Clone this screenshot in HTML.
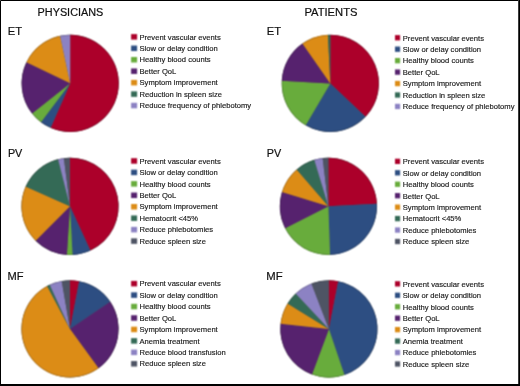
<!DOCTYPE html>
<html><head><meta charset="utf-8"><style>
html,body{margin:0;padding:0;background:#fff;}
body{width:520px;height:386px;overflow:hidden;}
svg{display:block;}
text{font-family:"Liberation Sans",sans-serif;}

</style></head><body>
<svg width="520" height="386" viewBox="0 0 520 386">
<defs><filter id="soft" color-interpolation-filters="sRGB" filterUnits="userSpaceOnUse" x="0" y="0" width="520" height="386"><feConvolveMatrix order="3" kernelMatrix="1 2 1 2 4 2 1 2 1" divisor="16" edgeMode="duplicate"/></filter></defs>
<rect x="0" y="0" width="520" height="386" fill="#fff"/>
<g filter="url(#soft)">
<rect x="0" y="0" width="520" height="386" fill="#fff"/>
<circle cx="70.20" cy="83.35" r="48.5" fill="#555"/>
<path d="M70.20,83.35L70.20,34.75A48.6,48.6 0 1 1 50.67,127.85Z" fill="#ac002a"/>
<path d="M70.20,83.35L50.67,127.85A48.6,48.6 0 0 1 40.95,122.16Z" fill="#2d4e82"/>
<path d="M70.20,83.35L40.95,122.16A48.6,48.6 0 0 1 32.06,113.47Z" fill="#68ac3c"/>
<path d="M70.20,83.35L32.06,113.47A48.6,48.6 0 0 1 26.44,62.20Z" fill="#56226e"/>
<path d="M70.20,83.35L26.44,62.20A48.6,48.6 0 0 1 60.10,35.81Z" fill="#dc8c16"/>
<path d="M70.20,83.35L60.10,35.81A48.6,48.6 0 0 1 70.20,34.75Z" fill="#8c82c3"/>
<circle cx="70.20" cy="83.35" r="48.300000000000004" fill="none" stroke="rgba(0,0,0,0.22)" stroke-width="0.7"/>
<circle cx="330.30" cy="83.40" r="48.5" fill="#555"/>
<path d="M330.30,83.40L330.30,34.80A48.6,48.6 0 0 1 365.55,116.85Z" fill="#ac002a"/>
<path d="M330.30,83.40L365.55,116.85A48.6,48.6 0 0 1 305.71,125.32Z" fill="#2d4e82"/>
<path d="M330.30,83.40L305.71,125.32A48.6,48.6 0 0 1 281.77,80.77Z" fill="#68ac3c"/>
<path d="M330.30,83.40L281.77,80.77A48.6,48.6 0 0 1 302.42,43.59Z" fill="#56226e"/>
<path d="M330.30,83.40L302.42,43.59A48.6,48.6 0 0 1 327.93,34.86Z" fill="#dc8c16"/>
<path d="M330.30,83.40L327.93,34.86A48.6,48.6 0 0 1 330.30,34.80Z" fill="#346a56"/>
<circle cx="330.30" cy="83.40" r="48.300000000000004" fill="none" stroke="rgba(0,0,0,0.22)" stroke-width="0.7"/>
<circle cx="70.00" cy="206.35" r="48.5" fill="#555"/>
<path d="M70.00,206.35L70.00,157.75A48.6,48.6 0 0 1 90.39,250.47Z" fill="#ac002a"/>
<path d="M70.00,206.35L90.39,250.47A48.6,48.6 0 0 1 72.54,254.88Z" fill="#2d4e82"/>
<path d="M70.00,206.35L72.54,254.88A48.6,48.6 0 0 1 66.86,254.85Z" fill="#68ac3c"/>
<path d="M70.00,206.35L66.86,254.85A48.6,48.6 0 0 1 35.63,240.72Z" fill="#56226e"/>
<path d="M70.00,206.35L35.63,240.72A48.6,48.6 0 0 1 25.64,186.51Z" fill="#dc8c16"/>
<path d="M70.00,206.35L25.64,186.51A48.6,48.6 0 0 1 58.08,159.23Z" fill="#346a56"/>
<path d="M70.00,206.35L58.08,159.23A48.6,48.6 0 0 1 63.91,158.13Z" fill="#8c82c3"/>
<path d="M70.00,206.35L63.91,158.13A48.6,48.6 0 0 1 70.00,157.75Z" fill="#4e5464"/>
<circle cx="70.00" cy="206.35" r="48.300000000000004" fill="none" stroke="rgba(0,0,0,0.22)" stroke-width="0.7"/>
<circle cx="328.40" cy="206.30" r="48.5" fill="#555"/>
<path d="M328.40,206.30L328.40,157.70A48.6,48.6 0 0 1 376.94,203.84Z" fill="#ac002a"/>
<path d="M328.40,206.30L376.94,203.84A48.6,48.6 0 0 1 330.01,254.87Z" fill="#2d4e82"/>
<path d="M328.40,206.30L330.01,254.87A48.6,48.6 0 0 1 285.10,228.36Z" fill="#68ac3c"/>
<path d="M328.40,206.30L285.10,228.36A48.6,48.6 0 0 1 281.92,192.09Z" fill="#56226e"/>
<path d="M328.40,206.30L281.92,192.09A48.6,48.6 0 0 1 296.71,169.45Z" fill="#dc8c16"/>
<path d="M328.40,206.30L296.71,169.45A48.6,48.6 0 0 1 314.27,159.80Z" fill="#346a56"/>
<path d="M328.40,206.30L314.27,159.80A48.6,48.6 0 0 1 322.65,158.04Z" fill="#8c82c3"/>
<path d="M328.40,206.30L322.65,158.04A48.6,48.6 0 0 1 328.40,157.70Z" fill="#4e5464"/>
<circle cx="328.40" cy="206.30" r="48.300000000000004" fill="none" stroke="rgba(0,0,0,0.22)" stroke-width="0.7"/>
<circle cx="70.00" cy="328.90" r="48.5" fill="#555"/>
<path d="M70.00,328.90L70.00,280.30A48.6,48.6 0 0 1 79.19,281.18Z" fill="#ac002a"/>
<path d="M70.00,328.90L79.19,281.18A48.6,48.6 0 0 1 110.29,301.72Z" fill="#2d4e82"/>
<path d="M70.00,328.90L110.29,301.72A48.6,48.6 0 0 1 98.57,368.22Z" fill="#56226e"/>
<path d="M70.00,328.90L98.57,368.22A48.6,48.6 0 1 1 47.18,285.99Z" fill="#dc8c16"/>
<path d="M70.00,328.90L47.18,285.99A48.6,48.6 0 0 1 49.69,284.75Z" fill="#346a56"/>
<path d="M70.00,328.90L49.69,284.75A48.6,48.6 0 0 1 61.73,281.01Z" fill="#8c82c3"/>
<path d="M70.00,328.90L61.73,281.01A48.6,48.6 0 0 1 70.00,280.30Z" fill="#4e5464"/>
<circle cx="70.00" cy="328.90" r="48.300000000000004" fill="none" stroke="rgba(0,0,0,0.22)" stroke-width="0.7"/>
<circle cx="328.90" cy="328.95" r="48.5" fill="#555"/>
<path d="M328.90,328.95L328.90,280.35A48.6,48.6 0 0 1 338.26,281.26Z" fill="#ac002a"/>
<path d="M328.90,328.95L338.26,281.26A48.6,48.6 0 0 1 344.48,374.98Z" fill="#2d4e82"/>
<path d="M328.90,328.95L344.48,374.98A48.6,48.6 0 0 1 311.96,374.50Z" fill="#68ac3c"/>
<path d="M328.90,328.95L311.96,374.50A48.6,48.6 0 0 1 280.57,323.87Z" fill="#56226e"/>
<path d="M328.90,328.95L280.57,323.87A48.6,48.6 0 0 1 287.55,303.41Z" fill="#dc8c16"/>
<path d="M328.90,328.95L287.55,303.41A48.6,48.6 0 0 1 295.69,293.46Z" fill="#346a56"/>
<path d="M328.90,328.95L295.69,293.46A48.6,48.6 0 0 1 311.48,283.58Z" fill="#8c82c3"/>
<path d="M328.90,328.95L311.48,283.58A48.6,48.6 0 0 1 328.90,280.35Z" fill="#4e5464"/>
<circle cx="328.90" cy="328.95" r="48.300000000000004" fill="none" stroke="rgba(0,0,0,0.22)" stroke-width="0.7"/>
<rect x="131.1" y="34.10" width="6.0" height="5.5" fill="#ac002a"/>
<rect x="131.1" y="45.55" width="6.0" height="5.5" fill="#2d4e82"/>
<rect x="131.1" y="57.00" width="6.0" height="5.5" fill="#68ac3c"/>
<rect x="131.1" y="68.45" width="6.0" height="5.5" fill="#56226e"/>
<rect x="131.1" y="79.90" width="6.0" height="5.5" fill="#dc8c16"/>
<rect x="131.1" y="91.35" width="6.0" height="5.5" fill="#346a56"/>
<rect x="131.1" y="102.80" width="6.0" height="5.5" fill="#8c82c3"/>
<rect x="395.0" y="35.10" width="5.1" height="5.3" fill="#ac002a"/>
<rect x="395.0" y="46.55" width="5.1" height="5.3" fill="#2d4e82"/>
<rect x="395.0" y="58.00" width="5.1" height="5.3" fill="#68ac3c"/>
<rect x="395.0" y="69.45" width="5.1" height="5.3" fill="#56226e"/>
<rect x="395.0" y="80.90" width="5.1" height="5.3" fill="#dc8c16"/>
<rect x="395.0" y="92.35" width="5.1" height="5.3" fill="#346a56"/>
<rect x="395.0" y="103.80" width="5.1" height="5.3" fill="#8c82c3"/>
<rect x="131.1" y="158.20" width="6.0" height="5.5" fill="#ac002a"/>
<rect x="131.1" y="169.65" width="6.0" height="5.5" fill="#2d4e82"/>
<rect x="131.1" y="181.10" width="6.0" height="5.5" fill="#68ac3c"/>
<rect x="131.1" y="192.55" width="6.0" height="5.5" fill="#56226e"/>
<rect x="131.1" y="204.00" width="6.0" height="5.5" fill="#dc8c16"/>
<rect x="131.1" y="215.45" width="6.0" height="5.5" fill="#346a56"/>
<rect x="131.1" y="226.90" width="6.0" height="5.5" fill="#8c82c3"/>
<rect x="131.1" y="238.35" width="6.0" height="5.5" fill="#4e5464"/>
<rect x="395.0" y="158.70" width="5.1" height="5.3" fill="#ac002a"/>
<rect x="395.0" y="170.15" width="5.1" height="5.3" fill="#2d4e82"/>
<rect x="395.0" y="181.60" width="5.1" height="5.3" fill="#68ac3c"/>
<rect x="395.0" y="193.05" width="5.1" height="5.3" fill="#56226e"/>
<rect x="395.0" y="204.50" width="5.1" height="5.3" fill="#dc8c16"/>
<rect x="395.0" y="215.95" width="5.1" height="5.3" fill="#346a56"/>
<rect x="395.0" y="227.40" width="5.1" height="5.3" fill="#8c82c3"/>
<rect x="395.0" y="238.85" width="5.1" height="5.3" fill="#4e5464"/>
<rect x="131.1" y="280.90" width="6.0" height="5.5" fill="#ac002a"/>
<rect x="131.1" y="292.35" width="6.0" height="5.5" fill="#2d4e82"/>
<rect x="131.1" y="303.80" width="6.0" height="5.5" fill="#68ac3c"/>
<rect x="131.1" y="315.25" width="6.0" height="5.5" fill="#56226e"/>
<rect x="131.1" y="326.70" width="6.0" height="5.5" fill="#dc8c16"/>
<rect x="131.1" y="338.15" width="6.0" height="5.5" fill="#346a56"/>
<rect x="131.1" y="349.60" width="6.0" height="5.5" fill="#8c82c3"/>
<rect x="131.1" y="361.05" width="6.0" height="5.5" fill="#4e5464"/>
<rect x="395.0" y="281.20" width="5.1" height="5.3" fill="#ac002a"/>
<rect x="395.0" y="292.65" width="5.1" height="5.3" fill="#2d4e82"/>
<rect x="395.0" y="304.10" width="5.1" height="5.3" fill="#68ac3c"/>
<rect x="395.0" y="315.55" width="5.1" height="5.3" fill="#56226e"/>
<rect x="395.0" y="327.00" width="5.1" height="5.3" fill="#dc8c16"/>
<rect x="395.0" y="338.45" width="5.1" height="5.3" fill="#346a56"/>
<rect x="395.0" y="349.90" width="5.1" height="5.3" fill="#8c82c3"/>
<rect x="395.0" y="361.35" width="5.1" height="5.3" fill="#4e5464"/>
</g>
<g style="will-change:transform" fill="#111" stroke="#111" stroke-width="0.2">
<text x="37.6" y="16.4" font-size="10.85">PHYSICIANS</text>
<text x="304.4" y="16.2" font-size="11.2">PATIENTS</text>
<text x="7.7" y="34.5" font-size="11.2">ET</text>
<text x="266.8" y="34.5" font-size="11.2">ET</text>
<text x="7.9" y="157.1" font-size="10.8">PV</text>
<text x="266.7" y="157.1" font-size="10.8">PV</text>
<text x="7.4" y="279.6" font-size="11.1">MF</text>
<text x="266.3" y="279.6" font-size="11.3">MF</text>
</g>
<g style="will-change:transform" font-size="7.62" fill="#1a1a1a" stroke="#1a1a1a" stroke-width="0.15">
<text x="139.50" y="39.50">Prevent vascular events</text>
<text x="139.50" y="50.95">Slow or delay condition</text>
<text x="139.50" y="62.40">Healthy blood counts</text>
<text x="139.50" y="73.85">Better QoL</text>
<text x="139.50" y="85.30">Symptom improvement</text>
<text x="139.50" y="96.75">Reduction in spleen size</text>
<text x="139.50" y="108.20">Reduce frequency of phlebotomy</text>
<text x="402.80" y="40.55">Prevent vascular events</text>
<text x="402.80" y="52.00">Slow or delay condition</text>
<text x="402.80" y="63.45">Healthy blood counts</text>
<text x="402.80" y="74.90">Better QoL</text>
<text x="402.80" y="86.35">Symptom improvement</text>
<text x="402.80" y="97.80">Reduction in spleen size</text>
<text x="402.80" y="109.25">Reduce frequency of phlebotomy</text>
<text x="139.50" y="163.60">Prevent vascular events</text>
<text x="139.50" y="175.05">Slow or delay condition</text>
<text x="139.50" y="186.50">Healthy blood counts</text>
<text x="139.50" y="197.95">Better QoL</text>
<text x="139.50" y="209.40">Symptom improvement</text>
<text x="139.50" y="220.85">Hematocrit &lt;45%</text>
<text x="139.50" y="232.30">Reduce phlebotomies</text>
<text x="139.50" y="243.75">Reduce spleen size</text>
<text x="402.80" y="164.15">Prevent vascular events</text>
<text x="402.80" y="175.60">Slow or delay condition</text>
<text x="402.80" y="187.05">Healthy blood counts</text>
<text x="402.80" y="198.50">Better QoL</text>
<text x="402.80" y="209.95">Symptom improvement</text>
<text x="402.80" y="221.40">Hematocrit &lt;45%</text>
<text x="402.80" y="232.85">Reduce phlebotomies</text>
<text x="402.80" y="244.30">Reduce spleen size</text>
<text x="139.50" y="286.30">Prevent vascular events</text>
<text x="139.50" y="297.75">Slow or delay condition</text>
<text x="139.50" y="309.20">Healthy blood counts</text>
<text x="139.50" y="320.65">Better QoL</text>
<text x="139.50" y="332.10">Symptom improvement</text>
<text x="139.50" y="343.55">Anemia treatment</text>
<text x="139.50" y="355.00">Reduce blood transfusion</text>
<text x="139.50" y="366.45">Reduce spleen size</text>
<text x="402.80" y="286.65">Prevent vascular events</text>
<text x="402.80" y="298.10">Slow or delay condition</text>
<text x="402.80" y="309.55">Healthy blood counts</text>
<text x="402.80" y="321.00">Better QoL</text>
<text x="402.80" y="332.45">Symptom improvement</text>
<text x="402.80" y="343.90">Anemia treatment</text>
<text x="402.80" y="355.35">Reduce phlebotomies</text>
<text x="402.80" y="366.80">Reduce spleen size</text>
</g>
<path d="M0.5,0.5H518.5V384.5H0.5Z" fill="none" stroke="#000" stroke-width="1"/>
<rect x="518" y="0" width="1" height="386" fill="#3a3a3a"/>
<rect x="519" y="0" width="1" height="386" fill="#000"/>
<rect x="0" y="384" width="520" height="2" fill="#000"/>
</svg>
</body></html>
